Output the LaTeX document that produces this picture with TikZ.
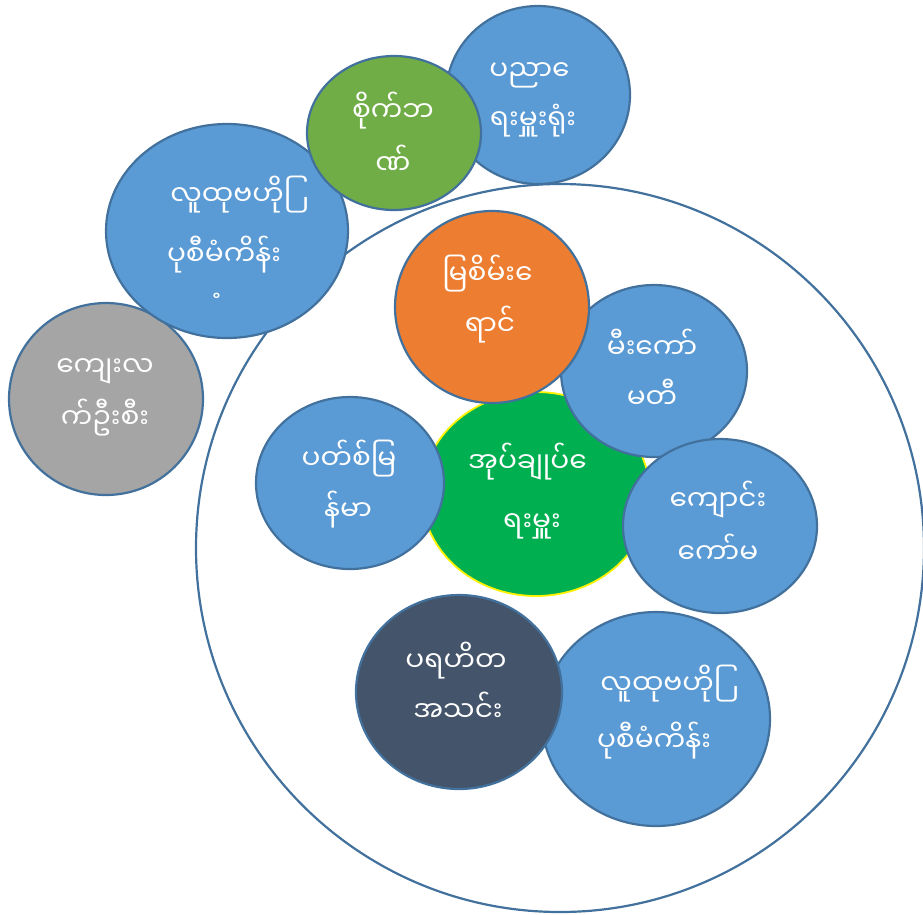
\documentclass[tikz,border=0pt]{standalone}
\usepackage{fontspec}
\newfontfamily\mya[Script=Myanmar]{Noto Sans Myanmar UI}
\usetikzlibrary{shapes.geometric}
\definecolor{cblue}{HTML}{5B9BD5}
\definecolor{cedge}{HTML}{41719C}
\definecolor{cgreen}{HTML}{70AD47}
\definecolor{corange}{HTML}{ED7D31}
\definecolor{cgray}{HTML}{A5A5A5}
\definecolor{cgreenb}{HTML}{00B050}
\definecolor{cdark}{HTML}{44546A}
\begin{document}
\begin{tikzpicture}[x=1pt,y=-1pt,
  bub/.style={ellipse, draw=cedge, line width=2.2pt, inner sep=0pt},
  txt/.style={text=white, font=\mya\fontsize{28}{34}\selectfont, anchor=base, inner sep=0pt},
]
\useasboundingbox (0,0) rectangle (923,914);
\node[bub, fill=white, minimum width=728, minimum height=728] (outer) at (560,548) {};
\node[bub, fill=cgray, minimum width=194, minimum height=192] (gray) at (106,399) {};
\node[bub, fill=cblue, minimum width=242, minimum height=214] (bigl) at (227,231) {};
\node[bub, fill=cblue, minimum width=184, minimum height=178] (topr) at (538,95) {};
\node[bub, fill=cgreen, minimum width=174, minimum height=154] (greens) at (394,133) {};
\node[bub, fill=cgreenb, draw=yellow, line width=1.8pt, minimum width=228, minimum height=204] (center) at (536,494) {};
\node[bub, fill=cblue, minimum width=186, minimum height=172] (mikaw) at (654,371) {};
\node[bub, fill=corange, minimum width=194, minimum height=192] (orange) at (492,307) {};
\node[bub, fill=cblue, minimum width=194, minimum height=174] (kyaung) at (720,526) {};
\node[bub, fill=cblue, minimum width=188, minimum height=172] (pat) at (350,483) {};
\node[bub, fill=cblue, minimum width=228, minimum height=214] (botr) at (656,719) {};
\node[bub, fill=cdark, minimum width=206, minimum height=194] (dark) at (459,692) {};
% texts
\node[txt] (t1a) at (533,80) {ပညာ\char"A0 ေ};
\node[txt] (t1b) at (533,129) {ရးမှူးရုံး};
\node[txt] (t2a) at (393,121) {စိုက်ဘ};
\node[txt] (t2b) at (393,174) {ဏ်};
\node[txt] (t3a) at (234,205) {လူထုဗဟို\char"A0 ြ};
\node[txt] (t3b) at (224,265) {ပုစီမံကိန်း};
\node[txt] (t3c) at (222,318) {\char"A0 ံ};
\node[txt] (t4a) at (105,376) {ကျေးလ};
\node[txt] (t4b) at (105,428) {က်ဦးစီး};
\node[txt] (t5a) at (349,469) {ပတ်စ်မြ};
\node[txt] (t5b) at (348,520) {န်မာ};
\node[txt] (t6a) at (491,284) {မြစိမ်း\char"A0 ေ};
\node[txt] (t6b) at (490,335) {ရာင်};
\node[txt] (t7a) at (652,358) {မီးကော်};
\node[txt] (t7b) at (652,408) {မတီ};
\node[txt] (t8a) at (531,472) {အုပ်ချုပ်\char"A0 ေ};
\node[txt] (t8b) at (532,531) {ရးမှူး};
\node[txt] (t9a) at (718,510) {ကျောင်း};
\node[txt] (t9b) at (718,563) {ကော်မ};
\node[txt] (t10a) at (456,671) {ပရဟိတ};
\node[txt] (t10b) at (458,721) {အသင်း};
\node[txt] (t11a) at (664,694) {လူထုဗဟို\char"A0 ြ};
\node[txt] (t11b) at (654,751) {ပုစီမံကိန်း};
\end{tikzpicture}
\end{document}
